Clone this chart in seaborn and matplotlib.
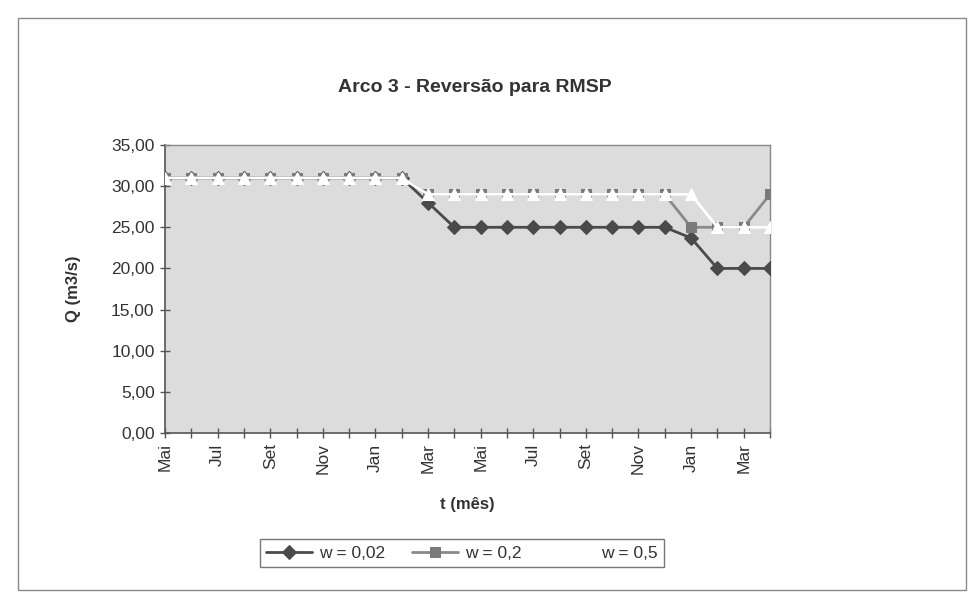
import matplotlib
matplotlib.use("Agg")
import matplotlib.pyplot as plt
import seaborn as sns
import pandas as pd
from matplotlib.patches import Rectangle
from matplotlib.ticker import FuncFormatter, FixedLocator

sns.set_style("white")
plt.rcParams['font.family'] = ['Liberation Sans', 'DejaVu Sans']
plt.rcParams['hatch.color'] = '#9a9a9a'
plt.rcParams['hatch.linewidth'] = 0.8

# ---- data ----
months = ['Mai', 'Jun', 'Jul', 'Ago', 'Set', 'Out', 'Nov', 'Dez', 'Jan', 'Fev', 'Mar', 'Abr',
          'Mai', 'Jun', 'Jul', 'Ago', 'Set', 'Out', 'Nov', 'Dez', 'Jan', 'Fev', 'Mar', 'Abr']
w_002 = [31, 31, 31, 31, 31, 31, 31, 31, 31, 31, 28, 25,
         25, 25, 25, 25, 25, 25, 25, 25, 23.7, 20, 20, 20]
w_02 = [31, 31, 31, 31, 31, 31, 31, 31, 31, 31, 29, 29,
        29, 29, 29, 29, 29, 29, 29, 29, 25, 25, 25, 29]
w_05 = [31, 31, 31, 31, 31, 31, 31, 31, 31, 31, 29, 29,
        29, 29, 29, 29, 29, 29, 29, 29, 29, 25, 25, 25]
series_names = ['w = 0,02', 'w = 0,2', 'w = 0,5']
y_ticks = [0, 5, 10, 15, 20, 25, 30, 35]

idx = list(range(len(months)))
df = pd.DataFrame({
    't': idx * 3,
    'Q': w_002 + w_02 + w_05,
    'serie': [series_names[0]] * len(idx) + [series_names[1]] * len(idx) + [series_names[2]] * len(idx),
})

fig = plt.figure(figsize=(9.79, 5.97), dpi=100)
fig.patch.set_facecolor('white')
# outer frame
fig.add_artist(Rectangle((18 / 979, 1 - 590 / 597), (966 - 18) / 979, (590 - 18) / 597,
                         transform=fig.transFigure, fill=False, edgecolor='#8a8a8a', lw=1.0))

ax = fig.add_axes([165 / 979, 1 - 433 / 597, (770 - 165) / 979, (433 - 145) / 597])
ax.set_facecolor('#dcdcdc')
ax.patch.set_hatch('.....')

styles = {
    series_names[0]: dict(color='#4a4a4a', marker='D', markersize=7.5, lw=2.0, mec='#4a4a4a', mfc='#4a4a4a', z=3),
    series_names[1]: dict(color='#8a8a8a', marker='s', markersize=7.5, lw=2.0, mec='#7a7a7a', mfc='#7a7a7a', z=4),
    series_names[2]: dict(color='white', marker='^', markersize=9, lw=2.0, mec='white', mfc='white', z=5),
}
for name in series_names:
    st = styles[name]
    sns.lineplot(data=df[df['serie'] == name], x='t', y='Q', ax=ax, color=st['color'],
                 marker=st['marker'], markersize=st['markersize'], linewidth=st['lw'],
                 markeredgecolor=st['mec'], markerfacecolor=st['mfc'], label=name,
                 zorder=st['z'], legend=False)

ax.set_xlim(0, len(months) - 1)
ax.set_ylim(0, 35)
ax.yaxis.set_major_locator(FixedLocator(y_ticks))
ax.yaxis.set_major_formatter(FuncFormatter(lambda v, p: f"{v:.2f}".replace('.', ',')))
ax.set_xticks(idx)
ax.set_xticklabels([m if i % 2 == 0 else '' for i, m in enumerate(months)], rotation=90)
ax.tick_params(axis='both', which='both', direction='inout', length=7, width=1, color='#555555',
               labelsize=12.5, labelcolor='#333333', left=True, bottom=True)
ax.tick_params(axis='x', pad=4)
ax.tick_params(axis='y', pad=4)

for s in ['left', 'bottom']:
    ax.spines[s].set_color('#555555')
    ax.spines[s].set_linewidth(1.2)
for s in ['top', 'right']:
    ax.spines[s].set_color('#888888')
    ax.spines[s].set_linewidth(1.0)
ax.grid(False)

ax.set_xlabel('t (mês)', fontsize=12, fontweight='bold', color='#333333', labelpad=16)
ax.set_ylabel('Q (m3/s)', fontsize=12, fontweight='bold', color='#333333', labelpad=22)
fig.text(475 / 979, 1 - 88 / 597, 'Arco 3 - Reversão para RMSP', ha='center', va='center',
         fontsize=14, fontweight='bold', color='#333333')

handles, labels = ax.get_legend_handles_labels()
leg = fig.legend(handles, labels, loc='center', bbox_to_anchor=(462 / 979, 1 - 553 / 597), ncol=3,
                 frameon=True, fancybox=False, fontsize=12.5, handlelength=2.6, columnspacing=1.6,
                 handletextpad=0.4, borderpad=0.35)
leg.get_frame().set_edgecolor('#555555')
leg.get_frame().set_linewidth(1.0)
for t in leg.get_texts():
    t.set_color('#333333')

fig.savefig('out.png', dpi=100, facecolor='white')
